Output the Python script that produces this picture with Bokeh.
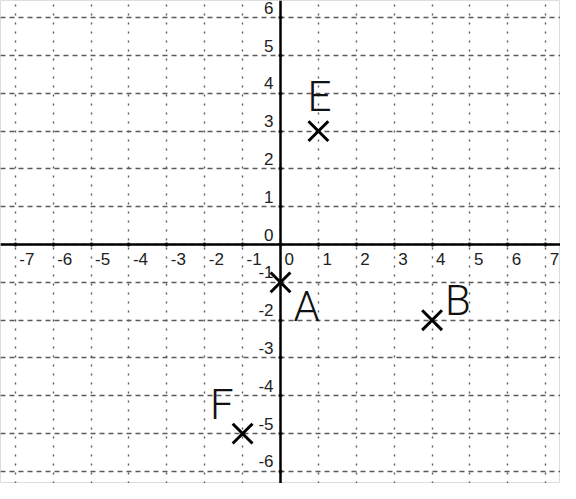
from bokeh.plotting import figure
from bokeh.models import Range1d, FixedTicker
from bokeh.core.properties import value
from bokeh.embed import file_html
from bokeh.resources import INLINE

# ---- data ----
x_ticks = [-7, -6, -5, -4, -3, -2, -1, 0, 1, 2, 3, 4, 5, 6, 7]
y_ticks = [-6, -5, -4, -3, -2, -1, 0, 1, 2, 3, 4, 5, 6]
x_tick_labels = [str(v) for v in x_ticks]
y_tick_labels = [str(v) for v in y_ticks]
point_names = ["E", "A", "B", "F"]
point_x = [1, 0, 4, -1]
point_y = [3, -1, -2, -5]

# ---- styles ----
label_style = {
    "E": dict(align="left", dx=-11, dy=-35),
    "A": dict(align="left", dx=13, dy=24),
    "B": dict(align="left", dx=13, dy=-20),
    "F": dict(align="right", dx=-9, dy=-29),
}

p = figure(width=560, height=483, output_backend="svg", toolbar_location=None,
           x_range=Range1d(-7.39, 7.39), y_range=Range1d(-6.32, 6.455),
           min_border=0)
p.outline_line_color = "#dddddd"
p.background_fill_color = "white"

# grid
p.xgrid.ticker = FixedTicker(ticks=x_ticks)
p.ygrid.ticker = FixedTicker(ticks=y_ticks)
p.xgrid.grid_line_color = "#5a5a5a"
p.xgrid.grid_line_dash = "2 7"
p.xgrid.grid_line_width = 1.4
p.ygrid.grid_line_color = "#5a5a5a"
p.ygrid.grid_line_dash = "5 4"
p.ygrid.grid_line_width = 1.4

# axes through origin
for ax, ticks in ((p.xaxis, x_ticks), (p.yaxis, y_ticks)):
    ax.fixed_location = 0
    ax.ticker = FixedTicker(ticks=ticks)
    ax.axis_line_width = 2.5
    ax.axis_line_color = "black"
    ax.major_tick_in = 2
    ax.major_tick_out = 2
    ax.major_tick_line_width = 2
    ax.minor_tick_line_color = None
    ax.major_label_text_color = None
    ax.major_label_text_font_size = "0px"

# tick labels
font = value("Liberation Sans")
p.text(x=x_ticks, y=[0] * len(x_ticks), text=x_tick_labels, text_font=font,
       text_font_size="17px", text_align="left", text_baseline="top",
       x_offset=4, y_offset=8, text_color="#222222")
p.text(x=[0] * len(y_ticks), y=y_ticks, text=y_tick_labels, text_font=font,
       text_font_size="17px", text_align="right", text_baseline="alphabetic",
       x_offset=-7, y_offset=-10, text_color="#222222")

# points
p.scatter(point_x, point_y, marker="x", size=28, line_width=3, color="black")

for n, x, y in zip(point_names, point_x, point_y):
    s = label_style[n]
    p.text(x=[x], y=[y], text=[n], text_font=value("Roboto Light"),
           text_font_size="42px",
           text_align=s["align"], text_baseline="alphabetic",
           x_offset=s["dx"], y_offset=s["dy"], text_color="#111111")

open("out.html", "w").write(file_html(p, INLINE))
